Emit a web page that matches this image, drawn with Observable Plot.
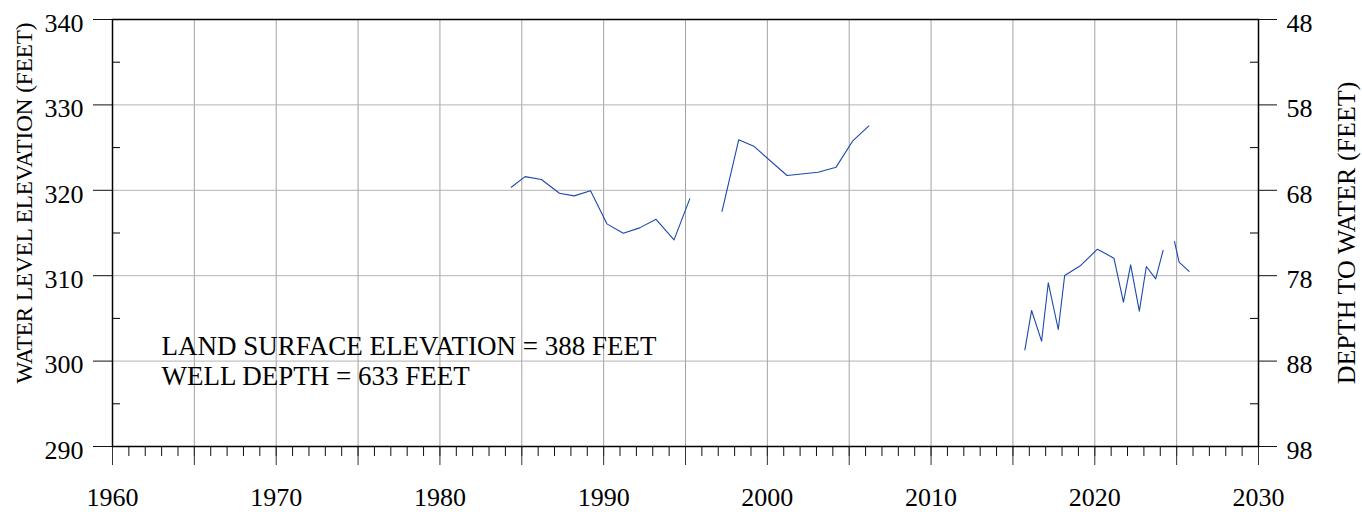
<!DOCTYPE html>
<html>
<head>
<meta charset="utf-8">
<script src="https://cdn.jsdelivr.net/npm/d3@7"></script>
<script src="https://cdn.jsdelivr.net/npm/@observablehq/plot@0.6"></script>
<style>
  html, body { margin: 0; padding: 0; background: #fff; }
  #chart svg { display: block; }
</style>
</head>
<body>
<div id="chart"></div>
<script>
// ---- data ----
const landSurfaceElevation = 388;
const years = [
  1984.36, 1985.2, 1986.2, 1987.3, 1988.2, 1989.2, 1990.2, 1991.2, 1992.2, 1993.2, 1994.3, 1995.26,
  1997.23, 1998.25, 1999.17, 2001.2, 2003.1, 2004.2, 2005.2, 2006.2,
  2015.73, 2016.14, 2016.75, 2017.16, 2017.77, 2018.16, 2019.14, 2020.16, 2021.17, 2021.75, 2022.19, 2022.72, 2023.15, 2023.72, 2024.17,
  2024.87, 2025.15, 2025.76
];
const levels = [
  320.36, 321.6, 321.26, 319.66, 319.35, 319.94, 316.07, 314.98, 315.6, 316.6, 314.2, 319.0,
  317.52, 325.91, 325.17, 321.73, 322.12, 322.71, 325.75, 327.55,
  301.32, 305.93, 302.33, 309.17, 303.7, 310.02, 311.2, 313.1, 312.05, 306.9, 311.27, 305.85, 311.08, 309.63, 312.95,
  314.0, 311.58, 310.5
];
const segmentIds = [
  1,1,1,1,1,1,1,1,1,1,1,1,
  2,2,2,2,2,2,2,2,
  3,3,3,3,3,3,3,3,3,3,3,3,3,3,3,
  4,4,4
];
const yearLabels = [1960, 1970, 1980, 1990, 2000, 2010, 2020, 2030];
const yearMajorTicks = [1960, 1965, 1970, 1975, 1980, 1985, 1990, 1995, 2000, 2005, 2010, 2015, 2020, 2025, 2030];
const yearGrid = [1965, 1970, 1975, 1980, 1985, 1990, 1995, 2000, 2005, 2010, 2015, 2020, 2025];
const yearMinorTicks = d3.range(1960, 2031);
const levelTicks = [290, 300, 310, 320, 330, 340];
const levelGrid = [300, 310, 320, 330];
const levelMinorTicks = [295, 305, 315, 325, 335];
const leftTitle = "WATER LEVEL ELEVATION (FEET)";
const rightTitle = "DEPTH TO WATER (FEET)";
const noteLines = ["LAND SURFACE ELEVATION = 388 FEET", "WELL DEPTH = 633 FEET"];

// ---- layout ----
const W = 1362, H = 512;
const mL = 112, mR = 104, mT = 19, mB = 66;
const plotW = W - mL - mR;
const idx = d3.range(years.length);

const chart = Plot.plot({
  width: W, height: H,
  marginLeft: mL, marginRight: mR, marginTop: mT, marginBottom: mB,
  style: {fontFamily: "'Liberation Serif', 'Times New Roman', serif", fontSize: "26px", background: "white", color: "black"},
  x: {domain: [1960, 2030], axis: null},
  y: {domain: [290, 340], axis: null},
  marks: [
    Plot.gridX(yearGrid, {stroke: "#a3a3a3", strokeOpacity: 1, strokeWidth: 1}),
    Plot.gridY(levelGrid, {stroke: "#b3b3b3", strokeOpacity: 1, strokeWidth: 1}),
    Plot.text([noteLines.join("\n")], {
      text: d => d, frameAnchor: "top-left", dx: 49, dy: 315,
      lineAnchor: "top", textAnchor: "start", lineHeight: 1.09, fontSize: 27,
      fill: "black", ariaLabel: "note"
    }),
    Plot.line(idx, {x: i => years[i], y: i => levels[i], z: i => segmentIds[i], stroke: "#1c48ad", strokeWidth: 1.1}),
    // minor ticks inside frame
    Plot.tickY(levelMinorTicks, {y: d => d, insetRight: plotW - 8, stroke: "black", strokeWidth: 1}),
    Plot.tickY(levelMinorTicks, {y: d => d, insetLeft: plotW - 8, stroke: "black", strokeWidth: 1}),
    // bottom axis ticks
    Plot.axisX(yearMinorTicks, {anchor: "bottom", tickSize: 10, tickFormat: () => "", label: null, stroke: "#111"}),
    Plot.axisX(yearMajorTicks, {anchor: "bottom", tickSize: 19, tickFormat: () => "", label: null, stroke: "#333"}),
    Plot.text(yearLabels, {x: d => d, text: d => String(d), frameAnchor: "bottom", dy: 41, lineAnchor: "top", fontSize: 26}),
    // left axis
    Plot.axisY(levelTicks, {anchor: "left", tickSize: 19, tickFormat: () => "", label: null, stroke: "#111"}),
    Plot.text(levelTicks, {y: d => d, text: d => String(d), frameAnchor: "left", dx: -29, dy: 4, textAnchor: "end", fontSize: 26}),
    // right axis
    Plot.axisY(levelTicks, {anchor: "right", tickSize: 18, tickFormat: () => "", label: null, stroke: "#111"}),
    Plot.text(levelTicks, {y: d => d, text: d => String(landSurfaceElevation - d), frameAnchor: "right", dx: 28, dy: 4, textAnchor: "start", fontSize: 26}),
    // titles
    Plot.text([leftTitle], {text: d => d, frameAnchor: "left", textAnchor: "middle", dx: -88, dy: -30, rotate: -90, fontSize: 23}),
    Plot.text([rightTitle], {text: d => d, frameAnchor: "right", textAnchor: "middle", dx: 88, dy: 0, rotate: -90, fontSize: 26}),
    Plot.frame({stroke: "black", strokeWidth: 1.5})
  ]
});

document.getElementById("chart").appendChild(chart);

// white box behind the annotation text
const noteG = chart.querySelector('g[aria-label="note"]');
if (noteG) {
  const bb = noteG.getBBox();
  const r = document.createElementNS("http://www.w3.org/2000/svg", "rect");
  r.setAttribute("x", bb.x - 1);
  r.setAttribute("y", bb.y - 1);
  r.setAttribute("width", bb.width + 3);
  r.setAttribute("height", bb.height + 6);
  r.setAttribute("fill", "white");
  r.setAttribute("stroke", "none");
  noteG.insertBefore(r, noteG.firstChild);
}
</script>
</body>
</html>
